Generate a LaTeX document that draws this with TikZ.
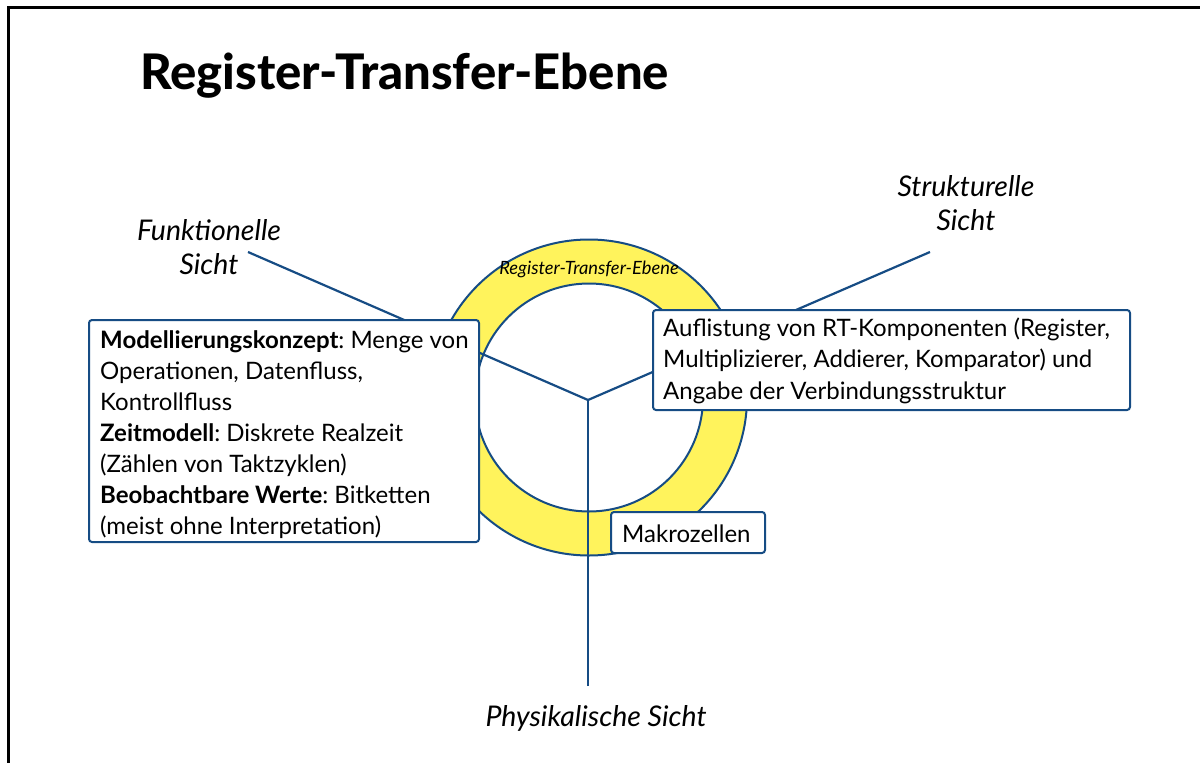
\documentclass[tikz,border=0pt]{standalone}
\usepackage{fontspec}
\setmainfont{Lato}
\newfontfamily\titlefont{Lato Heavy}
\frenchspacing
\definecolor{ringyellow}{RGB}{255,243,92}
\definecolor{lineblue}{RGB}{22,76,132}

\begin{document}
\begin{tikzpicture}[x=1pt,y=-1pt,
  rtbox/.style={draw=lineblue, line width=2pt, fill=white, rounded corners=3pt,
                inner sep=0pt, anchor=north west},
  boxtext/.style={inner sep=0pt, anchor=north west, align=left,
                  font=\fontsize{24}{31}\selectfont},
  viewlabel/.style={inner sep=0pt, align=center, font=\itshape\fontsize{28.5}{34}\selectfont},
  connector/.style={draw=lineblue, line width=2.2pt},
  ringline/.style={draw=lineblue, line width=2pt}]

  \useasboundingbox (0,0) rectangle (1200,763);

  % page frame (open at right and bottom)
  \draw[line width=2.5pt, black] (1200,7.5) -- (8.5,7.5) -- (8.5,763);

  % title
  \node[inner sep=0pt, anchor=base west, font=\titlefont\fontsize{49}{58}\selectfont]
    (title) at (140,89) {Register-Transfer-Ebene};

  % the ring of the Y-chart level
  \coordinate (c) at (589,397.5);
  \fill[ringyellow, even odd rule] (c) circle (158) (c) circle (114);
  \draw[ringline] (c) circle (158);
  \draw[ringline] (c) circle (114);
  \node[inner sep=0pt, anchor=base, font=\itshape\fontsize{18.3}{21}\selectfont]
    (ringlabel) at (589,274) {Register-Transfer-Ebene};

  % the three axes of the Y-chart
  \coordinate (hub) at (588,400);
  \coordinate (fend) at (248,252);
  \coordinate (send) at (930,252);
  \coordinate (pend) at (588,686);
  \draw[connector] (fend) -- (hub);
  \draw[connector] (send) -- (hub);
  \draw[connector] (pend) -- (hub);

  % axis labels
  \node[viewlabel, anchor=north] (flabel) at (209,219.5) {Funktionelle\\Sicht};
  \node[viewlabel, anchor=north] (slabel) at (966,175.5) {Strukturelle\\Sicht};
  \node[viewlabel, anchor=base] (plabel) at (596,726) {Physikalische Sicht};

  % behavioural description
  \node[rtbox, minimum width=390pt, minimum height=222pt] (fbox) at (88,319) {};
  \node[boxtext] (ftext) at (100,330.5)
    {\textbf{Modellierungskonzept}: Menge von\\
     Operationen, Datenfluss,\\
     Kontrollfluss\\
     \textbf{Zeitmodell}: Diskrete Realzeit\\
     (Zählen von Taktzyklen)\\
     \textbf{Beobachtbare Werte}: Bitketten\\
     (meist ohne Interpretation)};

  % structural description
  \node[rtbox, minimum width=477pt, minimum height=100pt] (sbox) at (652,309) {};
  \node[boxtext, font=\fontsize{24}{31.5}\selectfont] (stext) at (663,317.5)
    {Auflistung von RT-Komponenten (Register,\\
     Multiplizierer, Addierer, Komparator) und\\
     Angabe der Verbindungsstruktur};

  % physical description
  \node[rtbox, minimum width=154pt, minimum height=41pt] (pbox) at (610,511) {};
  \node[inner sep=0pt, anchor=base west, font=\fontsize{24}{31}\selectfont]
    (ptext) at (622,542) {Makrozellen};
\end{tikzpicture}
\end{document}
